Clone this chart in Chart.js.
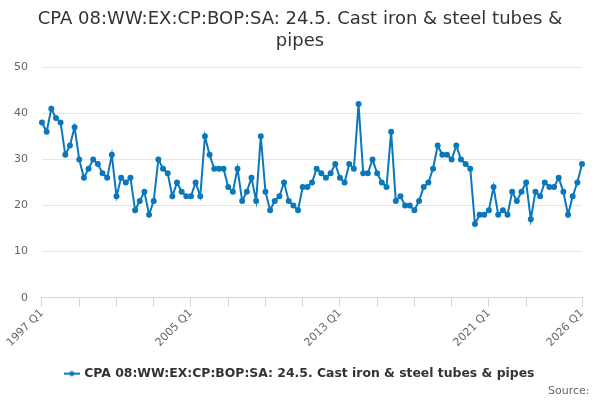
<!DOCTYPE html>
<html>
<head>
<meta charset="utf-8">
<script src="https://cdn.jsdelivr.net/npm/chart.js@4.4.1/dist/chart.umd.min.js"></script>
<style>
  html, body { margin: 0; padding: 0; background: #fff; }
  #wrap { width: 600px; height: 400px; }
</style>
</head>
<body>
<div id="wrap"><canvas id="chart"></canvas></div>
<script>
// quarterly series, 1997 Q1 .. 2026 Q1
const firstYear = 1997;
const values = [
  38, 36, 41, 39, 38, 31, 33, 37, 30, 26,
  28, 30, 29, 27, 26, 31, 22, 26, 25, 26,
  19, 21, 23, 18, 21, 30, 28, 27, 22, 25,
  23, 22, 22, 25, 22, 35, 31, 28, 28, 28,
  24, 23, 28, 21, 23, 26, 21, 35, 23, 19,
  21, 22, 25, 21, 20, 19, 24, 24, 25, 28,
  27, 26, 27, 29, 26, 25, 29, 28, 42, 27,
  27, 30, 27, 25, 24, 36, 21, 22, 20, 20,
  19, 21, 24, 25, 28, 33, 31, 31, 30, 33,
  30, 29, 28, 16, 18, 18, 19, 24, 18, 19,
  18, 23, 21, 23, 25, 17, 23, 22, 25, 24,
  24, 26, 23, 18, 22, 25, 29
];
const categories = values.map((v, i) => (firstYear + Math.floor(i / 4)) + ' Q' + (i % 4 + 1));
const yTicks = [0, 10, 20, 30, 40, 50];
const seriesName = 'CPA 08:WW:EX:CP:BOP:SA: 24.5. Cast iron & steel tubes & pipes';

const lineColor = '#0b78bd';
const FONT = '"DejaVu Sans", sans-serif';

// legend marker: short line with a dot
function legendMarker() {
  const c = document.createElement('canvas');
  c.width = 16; c.height = 8;
  const g = c.getContext('2d');
  g.strokeStyle = lineColor;
  g.lineWidth = 2;
  g.beginPath(); g.moveTo(0, 4); g.lineTo(16, 4); g.stroke();
  g.fillStyle = lineColor;
  g.beginPath(); g.arc(8, 4, 2.5, 0, Math.PI * 2); g.fill();
  return c;
}

const last = categories.length - 1;

new Chart(document.getElementById('chart'), {
  type: 'line',
  data: {
    labels: categories,
    datasets: [{
      label: seriesName,
      data: values,
      borderColor: lineColor,
      backgroundColor: lineColor,
      borderWidth: 2,
      pointRadius: 2,
      pointHoverRadius: 3,
      tension: 0
    }]
  },
  options: {
    responsive: true,
    maintainAspectRatio: false,
    animation: false,
    layout: { padding: { left: 0, right: 0, top: 6, bottom: 2 } },
    plugins: {
      title: {
        display: true,
        text: ['CPA 08:WW:EX:CP:BOP:SA: 24.5. Cast iron & steel tubes &', 'pipes'],
        color: '#333333',
        font: { family: FONT, size: 18, weight: 'normal', lineHeight: 1.2 },
        padding: { top: 3, bottom: 15 }
      },
      subtitle: {
        display: true,
        position: 'bottom',
        align: 'end',
        text: 'Source:\u00a0\u00a0\u00a0',
        color: '#666666',
        font: { family: FONT, size: 11, weight: 'normal' },
        padding: { top: -5, bottom: 0 }
      },
      legend: {
        position: 'bottom',
        labels: {
          color: '#333333',
          font: { family: FONT, size: 12.4, weight: 'bold' },
          usePointStyle: true,
          pointStyle: legendMarker(),
          padding: 18
        }
      },
      tooltip: { enabled: false }
    },
    scales: {
      x: {
        grid: {
          display: true,
          drawOnChartArea: false,
          drawTicks: true,
          tickLength: 9,
          color: '#ccd6eb'
        },
        border: { display: true, color: '#ccd6eb' },
        ticks: {
          autoSkip: false,
          maxRotation: 45,
          minRotation: 45,
          color: '#666666',
          font: { family: FONT, size: 11 },
          padding: 0,
          callback: function (val, index) {
            if (index % 32 === 0 || index === last) return this.getLabelForValue(val);
            if (index % 8 === 0 && index !== 112) return '';
            return null;
          }
        }
      },
      y: {
        min: yTicks[0],
        max: yTicks[yTicks.length - 1],
        afterBuildTicks: axis => { axis.ticks = yTicks.map(v => ({ value: v })); },
        grid: { color: '#e6e6e6', drawTicks: false },
        border: { display: false },
        ticks: {
          color: '#666666',
          font: { family: FONT, size: 11 },
          padding: 14
        }
      },
      // empty right-hand gutter so the plot stops short of the edge
      gutter: {
        type: 'linear',
        position: 'right',
        display: true,
        grid: { display: false },
        border: { display: false },
        ticks: { display: false },
        afterFit: s => { s.width = 18; }
      }
    }
  }
});
</script>
</body>
</html>
